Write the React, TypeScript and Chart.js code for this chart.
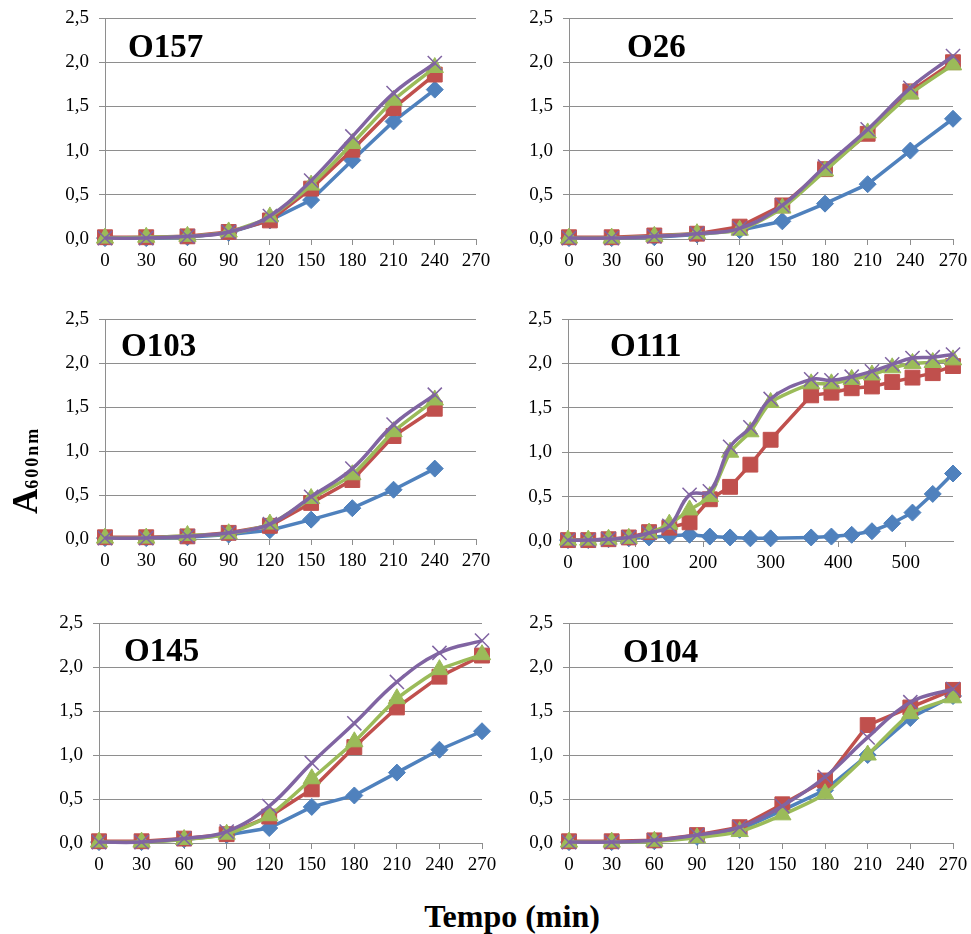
import React, { useEffect, useRef } from "react";
import { Chart, registerables } from "chart.js";

Chart.register(...registerables);

// Sampling times (min)
const TIMES_240 = [0, 30, 60, 90, 120, 150, 180, 210, 240];
const TIMES_270 = [0, 30, 60, 90, 120, 150, 180, 210, 240, 270];
const TIMES_O111 = [0, 30, 60, 90, 120, 150, 180, 210, 240, 270, 300, 360, 390, 420, 450, 480, 510, 540, 570];

// Axis ticks
const X_TICKS_270 = [0, 30, 60, 90, 120, 150, 180, 210, 240, 270];
const X_TICKS_O111 = [0, 100, 200, 300, 400, 500];
const Y_TICKS = [0, 0.5, 1, 1.5, 2, 2.5];

// A600nm readings, one array per culture condition
const O157_S1 = [0.01, 0.01, 0.02, 0.07, 0.21, 0.44, 0.89, 1.33, 1.69];
const O157_S2 = [0.02, 0.02, 0.03, 0.08, 0.21, 0.57, 1.01, 1.48, 1.86];
const O157_S3 = [0.01, 0.02, 0.03, 0.08, 0.25, 0.61, 1.08, 1.57, 1.94];
const O157_S4 = [0.01, 0.01, 0.03, 0.08, 0.26, 0.66, 1.16, 1.65, 1.99];

const O26_S1 = [0.01, 0.01, 0.02, 0.05, 0.1, 0.2, 0.4, 0.62, 1.0, 1.36];
const O26_S2 = [0.02, 0.02, 0.04, 0.06, 0.14, 0.38, 0.79, 1.19, 1.67, 2.0];
const O26_S3 = [0.01, 0.01, 0.03, 0.06, 0.1, 0.35, 0.77, 1.2, 1.64, 1.97];
const O26_S4 = [0.01, 0.01, 0.03, 0.06, 0.12, 0.38, 0.82, 1.24, 1.71, 2.07];

const O103_S1 = [0.01, 0.01, 0.02, 0.05, 0.1, 0.22, 0.35, 0.56, 0.8];
const O103_S2 = [0.02, 0.02, 0.03, 0.07, 0.15, 0.41, 0.67, 1.17, 1.48];
const O103_S3 = [0.01, 0.01, 0.04, 0.06, 0.17, 0.46, 0.73, 1.22, 1.58];
const O103_S4 = [0.01, 0.01, 0.03, 0.07, 0.17, 0.48, 0.8, 1.3, 1.64];

const O111_S1 = [0.01, 0.01, 0.02, 0.03, 0.04, 0.06, 0.07, 0.05, 0.04, 0.03, 0.03, 0.04, 0.05, 0.07, 0.11, 0.2, 0.32, 0.53, 0.76];
const O111_S2 = [0.01, 0.01, 0.02, 0.04, 0.1, 0.15, 0.21, 0.47, 0.61, 0.86, 1.14, 1.64, 1.67, 1.72, 1.74, 1.79, 1.84, 1.89, 1.97];
const O111_S3 = [0.01, 0.01, 0.02, 0.03, 0.09, 0.19, 0.35, 0.5, 1.0, 1.23, 1.56, 1.77, 1.77, 1.82, 1.87, 1.95, 2.0, 2.01, 2.04];
const O111_S4 = [0.01, 0.01, 0.02, 0.04, 0.09, 0.17, 0.52, 0.56, 1.06, 1.28, 1.6, 1.82, 1.81, 1.85, 1.91, 1.99, 2.06, 2.07, 2.1];

const O145_S1 = [0.01, 0.01, 0.04, 0.09, 0.17, 0.41, 0.54, 0.8, 1.06, 1.27];
const O145_S2 = [0.02, 0.02, 0.05, 0.1, 0.3, 0.61, 1.09, 1.54, 1.89, 2.13];
const O145_S3 = [0.01, 0.01, 0.04, 0.1, 0.31, 0.73, 1.15, 1.64, 1.97, 2.14];
const O145_S4 = [0.01, 0.01, 0.05, 0.13, 0.42, 0.91, 1.36, 1.83, 2.16, 2.3];

const O104_S1 = [0.01, 0.01, 0.02, 0.07, 0.15, 0.37, 0.6, 1.0, 1.42, 1.67];
const O104_S2 = [0.02, 0.02, 0.03, 0.09, 0.18, 0.44, 0.71, 1.34, 1.54, 1.74];
const O104_S3 = [0.01, 0.01, 0.02, 0.06, 0.13, 0.32, 0.56, 1.0, 1.47, 1.65];
const O104_S4 = [0.01, 0.01, 0.03, 0.09, 0.18, 0.42, 0.75, 1.2, 1.6, 1.75];

const SERIF = "'Liberation Serif', 'Times New Roman', serif";
const GRID = "#8e8e8e";

Chart.defaults.font.family = SERIF;
Chart.defaults.font.size = 19;
Chart.defaults.color = "#000";

type SeriesStyle = {
  color: string;
  pointStyle: string;
  radius: number;
  pointBorderWidth: number;
  tension: number;
};

const STYLES: SeriesStyle[] = [
  { color: "#4F81BD", pointStyle: "rectRot", radius: 8.5, pointBorderWidth: 1, tension: 0 },
  { color: "#C0504D", pointStyle: "rect", radius: 10.5, pointBorderWidth: 1, tension: 0 },
  { color: "#9BBB59", pointStyle: "triangle", radius: 10, pointBorderWidth: 1, tension: 0.2 },
  { color: "#8064A2", pointStyle: "crossRot", radius: 10, pointBorderWidth: 1.5, tension: 0.4 },
];

type PanelProps = {
  title: string;
  titleDx: number;
  titleDy: number;
  times: number[];
  series: number[][];
  xMax: number;
  xTicks: number[];
  left: number;
  top: number;
  right: number;
  bottom: number;
};

// Room around each plot area inside its canvas
const PAD_L = 90;
const PAD_T = 26;
const PAD_R = 30;
const PAD_B = 45;

const TICK_FONT = { family: SERIF, size: 19, weight: "normal" as const };

function Panel(p: PanelProps) {
  const ref = useRef<HTMLCanvasElement | null>(null);
  const w = p.right - p.left + PAD_L + PAD_R;
  const h = p.bottom - p.top + PAD_T + PAD_B;

  useEffect(() => {
    if (!ref.current) return;
    const titlePlugin = {
      id: "panelTitle",
      afterDatasetsDraw(chart: any) {
        const { ctx, chartArea } = chart;
        ctx.save();
        ctx.font = `bold 33px ${SERIF}`;
        ctx.fillStyle = "#000";
        ctx.textAlign = "left";
        ctx.textBaseline = "alphabetic";
        ctx.fillText(p.title, chartArea.left + p.titleDx, chartArea.top + p.titleDy);
        ctx.restore();
      },
    };

    const datasets = p.series.map((vals, i) => {
      const s = STYLES[i];
      return {
        data: vals.map((v, k) => ({ x: p.times[k], y: v })),
        borderColor: s.color,
        backgroundColor: s.color,
        pointBackgroundColor: s.color,
        pointBorderColor: s.color,
        pointStyle: s.pointStyle,
        pointRadius: s.radius,
        pointBorderWidth: s.pointBorderWidth,
        borderWidth: 3.5,
        tension: s.tension,
        clip: false,
        order: 3 - i,
      };
    });

    const chart = new Chart(ref.current, {
      type: "line",
      data: { datasets } as any,
      plugins: [titlePlugin],
      options: {
        animation: false,
        responsive: false,
        events: [],
        font: { family: SERIF, size: 19 },
        layout: { padding: { left: 0, top: PAD_T, right: PAD_R, bottom: 0 } },
        plugins: { legend: { display: false }, tooltip: { enabled: false }, title: { display: false } },
        scales: {
          x: {
            type: "linear",
            min: 0,
            max: p.xMax,
            afterBuildTicks: (s: any) => {
              s.ticks = p.xTicks.map((v) => ({ value: v }));
            },
            afterFit: (s: any) => {
              s.height = PAD_B;
            },
            ticks: {
              autoSkip: false,
              maxRotation: 0,
              padding: 5,
              color: "#000",
              font: TICK_FONT,
            },
            grid: { display: true, drawOnChartArea: false, drawTicks: true, tickLength: 6, color: GRID, lineWidth: 1 },
            border: { display: true, color: GRID, width: 1 },
          },
          y: {
            min: 0,
            max: 2.5,
            afterBuildTicks: (s: any) => {
              s.ticks = Y_TICKS.map((v) => ({ value: v }));
            },
            afterFit: (s: any) => {
              s.width = PAD_L;
            },
            ticks: {
              padding: 10,
              color: "#000",
              font: TICK_FONT,
              callback: (v: any) => Number(v).toFixed(1).replace(".", ","),
            },
            grid: { display: true, drawTicks: true, tickLength: 6, color: GRID, lineWidth: 1 },
            border: { display: true, color: GRID, width: 1 },
          },
        },
      } as any,
    });
    return () => chart.destroy();
  }, []);

  return (
    <div
      style={{
        position: "absolute",
        left: p.left - PAD_L,
        top: p.top - PAD_T,
        width: w,
        height: h,
      }}
    >
      <canvas ref={ref} width={w} height={h} style={{ width: w, height: h, display: "block" }} />
    </div>
  );
}

export default function App() {
  return (
    <div
      style={{
        position: "absolute",
        left: 0,
        top: 0,
        width: 971,
        height: 934,
        background: "#fff",
        overflow: "hidden",
      }}
    >
      <Panel title="O157" titleDx={23} titleDy={39} times={TIMES_240} series={[O157_S1, O157_S2, O157_S3, O157_S4]} xMax={270} xTicks={X_TICKS_270} left={105} top={18} right={476} bottom={239} />
      <Panel title="O26" titleDx={58} titleDy={39} times={TIMES_270} series={[O26_S1, O26_S2, O26_S3, O26_S4]} xMax={270} xTicks={X_TICKS_270} left={569} top={18} right={953} bottom={239} />
      <Panel title="O103" titleDx={16} titleDy={37} times={TIMES_240} series={[O103_S1, O103_S2, O103_S3, O103_S4]} xMax={270} xTicks={X_TICKS_270} left={105} top={319} right={476} bottom={539} />
      <Panel title="O111" titleDx={42} titleDy={37} times={TIMES_O111} series={[O111_S1, O111_S2, O111_S3, O111_S4]} xMax={570} xTicks={X_TICKS_O111} left={568} top={319} right={953} bottom={541} />
      <Panel title="O145" titleDx={25} titleDy={38} times={TIMES_270} series={[O145_S1, O145_S2, O145_S3, O145_S4]} xMax={270} xTicks={X_TICKS_270} left={99} top={623} right={482} bottom={843} />
      <Panel title="O104" titleDx={54} titleDy={39} times={TIMES_270} series={[O104_S1, O104_S2, O104_S3, O104_S4]} xMax={270} xTicks={X_TICKS_270} left={569} top={623} right={953} bottom={843} />

      <div
        style={{
          position: "absolute",
          left: 7.7,
          top: 514,
          transformOrigin: "0 0",
          transform: "rotate(-90deg)",
          whiteSpace: "nowrap",
          fontFamily: SERIF,
          fontWeight: "bold",
          fontSize: 35,
          lineHeight: 1,
          color: "#000",
        }}
      >
        A<span style={{ fontSize: 18, letterSpacing: 2, verticalAlign: "-1px" }}>600nm</span>
      </div>

      <div
        style={{
          position: "absolute",
          left: 0,
          width: 1024,
          top: 900,
          textAlign: "center",
          whiteSpace: "nowrap",
          fontFamily: SERIF,
          fontWeight: "bold",
          fontSize: 32,
          lineHeight: 1,
          color: "#000",
        }}
      >
        Tempo (min)
      </div>
    </div>
  );
}
